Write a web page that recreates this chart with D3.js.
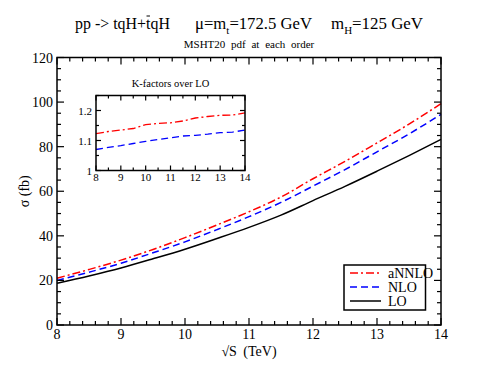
<!DOCTYPE html>
<html>
<head>
<meta charset="utf-8">
<script src="https://cdn.jsdelivr.net/npm/d3@7"></script>
<style>
  body { margin: 0; background: #fff; }
  svg { display: block; }
  svg text { font-family: "Liberation Serif", "Times New Roman", "DejaVu Serif", serif; }
  .frame { fill: none; stroke: #000; stroke-width: 1.5; }
  .tick-line { stroke: #000; stroke-width: 1.2; }
</style>
</head>
<body>
<div id="chart"></div>
<script>
// Cross sections for tqH production vs collider energy, three orders.
const sqrtS = [8, 8.5, 9, 9.5, 10, 10.5, 11, 11.5, 12, 12.5, 13, 13.5, 14];
const sigmaLO    = [18.7, 22.0, 25.6, 29.7, 34.0, 38.8, 43.8, 49.3, 55.8, 62.2, 69.0, 76.0, 83.3];
const sigmaNLO   = [20.0, 23.7, 27.7, 32.4, 37.3, 42.8, 48.6, 55.0, 62.3, 69.7, 77.7, 85.7, 94.5];
const sigmaANNLO = [21.0, 24.9, 29.1, 33.9, 39.2, 44.9, 50.8, 57.4, 65.6, 73.4, 81.7, 90.1, 99.3];
// K-factors over LO (inset)
const kNLO   = [1.070, 1.077, 1.083, 1.090, 1.097, 1.103, 1.109, 1.115, 1.117, 1.121, 1.126, 1.128, 1.135];
const kANNLO = [1.123, 1.130, 1.135, 1.140, 1.153, 1.157, 1.159, 1.165, 1.175, 1.180, 1.184, 1.185, 1.192];

const xTicks = [8, 9, 10, 11, 12, 13, 14];
const yTicks = [0, 20, 40, 60, 80, 100, 120];
const kTicks = [1, 1.1, 1.2];

const series = [
  { name: "aNNLO", vals: sigmaANNLO, k: kANNLO, color: "#ff0000", dash: "8 3 2 3" },
  { name: "NLO", vals: sigmaNLO, k: kNLO, color: "#0000ff", dash: "7 4" },
  { name: "LO", vals: sigmaLO, color: "#000000", dash: null }
];

const W = 496, H = 383;
const m = { top: 57.5, right: 55, bottom: 58, left: 57 };
const iw = W - m.left - m.right, ih = H - m.top - m.bottom;

const svg = d3.select("#chart").append("svg").attr("width", W).attr("height", H);

const x = d3.scaleLinear([8, 14], [m.left, m.left + iw]);
const y = d3.scaleLinear([0, 120], [m.top + ih, m.top]);

// inward ticks on all four sides
function ticksAll(g, xs, ys, x0, x1, y0, y1, step, ystep, major, minor) {
  const [dx0, dx1] = xs.domain();
  for (let v = dx0; v <= dx1 + 1e-9; v += step) {
    const isMaj = Math.abs(v - Math.round(v)) < 1e-6;
    const len = isMaj ? major : minor;
    g.append("line").attr("class", "tick-line").attr("x1", xs(v)).attr("x2", xs(v)).attr("y1", y0).attr("y2", y0 - len);
    g.append("line").attr("class", "tick-line").attr("x1", xs(v)).attr("x2", xs(v)).attr("y1", y1).attr("y2", y1 + len);
  }
  const [dy0, dy1] = ys.domain();
  for (let v = dy0; v <= dy1 + 1e-9; v += ystep.minor) {
    const isMaj = Math.abs(v / ystep.major - Math.round(v / ystep.major)) < 1e-6;
    const len = isMaj ? major : minor;
    g.append("line").attr("class", "tick-line").attr("y1", ys(v)).attr("y2", ys(v)).attr("x1", x0).attr("x2", x0 + len);
    g.append("line").attr("class", "tick-line").attr("y1", ys(v)).attr("y2", ys(v)).attr("x1", x1).attr("x2", x1 - len);
  }
}

// Titles: each part scaled to the width it takes in the original
function fitTitle(sel, target) {
  const w = sel.node().getComputedTextLength();
  sel.attr("font-size", 17 * target / w);
}
const t1 = svg.append("text").attr("x", 75).attr("y", 29).attr("font-size", 17).text("pp -> tqH+tqH");
fitTitle(t1, 95);
const tb = t1.node().getExtentOfChar(10);
svg.append("line").attr("x1", tb.x + 0.5).attr("x2", tb.x + tb.width - 0.5)
  .attr("y1", 16).attr("y2", 16).attr("stroke", "#000").attr("stroke-width", 1);
const t2 = svg.append("text").attr("x", 195).attr("y", 29).attr("font-size", 17)
  .html('μ=m<tspan dy="5" font-size="11">t</tspan><tspan dy="-5">=172.5 GeV</tspan>');
fitTitle(t2, 117);
const t3 = svg.append("text").attr("x", 331).attr("y", 29).attr("font-size", 17)
  .html('m<tspan dy="5" font-size="11">H</tspan><tspan dy="-5">=125 GeV</tspan>');
fitTitle(t3, 92);
svg.append("text").attr("x", 249).attr("y", 48).attr("font-size", 11).attr("text-anchor", "middle")
  .attr("word-spacing", 3).text("MSHT20 pdf at each order");

// Main curves
const line = (vals) => d3.line().x((d, i) => x(sqrtS[i])).y((d) => y(d)).curve(d3.curveMonotoneX)(vals);
series.slice().reverse().forEach((s) => {
  svg.append("path").attr("d", line(s.vals)).attr("fill", "none").attr("stroke", s.color)
    .attr("stroke-width", 1.5).attr("stroke-dasharray", s.dash);
});

// Frame + ticks
svg.append("rect").attr("class", "frame").attr("x", m.left).attr("y", m.top).attr("width", iw).attr("height", ih);
ticksAll(svg, x, y, m.left, m.left + iw, m.top + ih, m.top, 0.2, { major: 20, minor: 5 }, 7, 4);

svg.append("g").selectAll("text").data(xTicks).join("text")
  .attr("x", (d) => x(d)).attr("y", m.top + ih + 14).attr("text-anchor", "middle").attr("font-size", 14).text((d) => d);
svg.append("g").selectAll("text").data(yTicks).join("text")
  .attr("x", m.left - 4).attr("y", (d) => y(d) + 5).attr("text-anchor", "end").attr("font-size", 14).text((d) => d);

svg.append("text").attr("x", x(11)).attr("y", 356).attr("text-anchor", "middle").attr("font-size", 14)
  .attr("word-spacing", 3).text("√S (TeV)");
svg.append("text").attr("transform", `translate(29,${m.top + ih / 2}) rotate(-90)`).attr("text-anchor", "middle")
  .attr("font-size", 14).text("σ (fb)");

// Legend
const lg = svg.append("g");
lg.append("rect").attr("x", 344).attr("y", 265).attr("width", 81.5).attr("height", 45)
  .attr("fill", "#fff").attr("stroke", "#000").attr("stroke-width", 1.5);
series.forEach((s, i) => {
  const yy = 273 + i * 14;
  lg.append("line").attr("x1", 350).attr("x2", 381).attr("y1", yy).attr("y2", yy).attr("stroke", s.color)
    .attr("stroke-width", 1.5).attr("stroke-dasharray", s.dash);
  lg.append("text").attr("x", 388).attr("y", yy + 5).attr("font-size", 14).text(s.name);
});

// Inset: K-factors over LO
const ix = d3.scaleLinear([8, 14], [96, 245]);
const iy = d3.scaleLinear([1, 1.25], [170.5, 95.5]);
svg.append("text").attr("x", (96 + 245) / 2).attr("y", 87).attr("text-anchor", "middle").attr("font-size", 10.5)
  .text("K-factors over LO");
series.filter((s) => s.k).forEach((s) => {
  const p = d3.line().x((d, i) => ix(sqrtS[i])).y((d) => iy(d))(s.k);
  svg.append("path").attr("d", p).attr("fill", "none").attr("stroke", s.color).attr("stroke-width", 1.3)
    .attr("stroke-dasharray", s.dash);
});
svg.append("rect").attr("class", "frame").attr("x", 96).attr("y", 95.5).attr("width", 149).attr("height", 75);
ticksAll(svg, ix, iy, 96, 245, 170.5, 95.5, 0.5, { major: 0.1, minor: 0.05 }, 5, 3);
svg.append("g").selectAll("text").data(xTicks).join("text")
  .attr("x", (d) => ix(d)).attr("y", 181).attr("text-anchor", "middle").attr("font-size", 11).text((d) => d);
svg.append("g").selectAll("text").data(kTicks).join("text")
  .attr("x", 92).attr("y", (d) => iy(d) + 4).attr("text-anchor", "end").attr("font-size", 11).text((d) => d);
</script>
</body>
</html>
